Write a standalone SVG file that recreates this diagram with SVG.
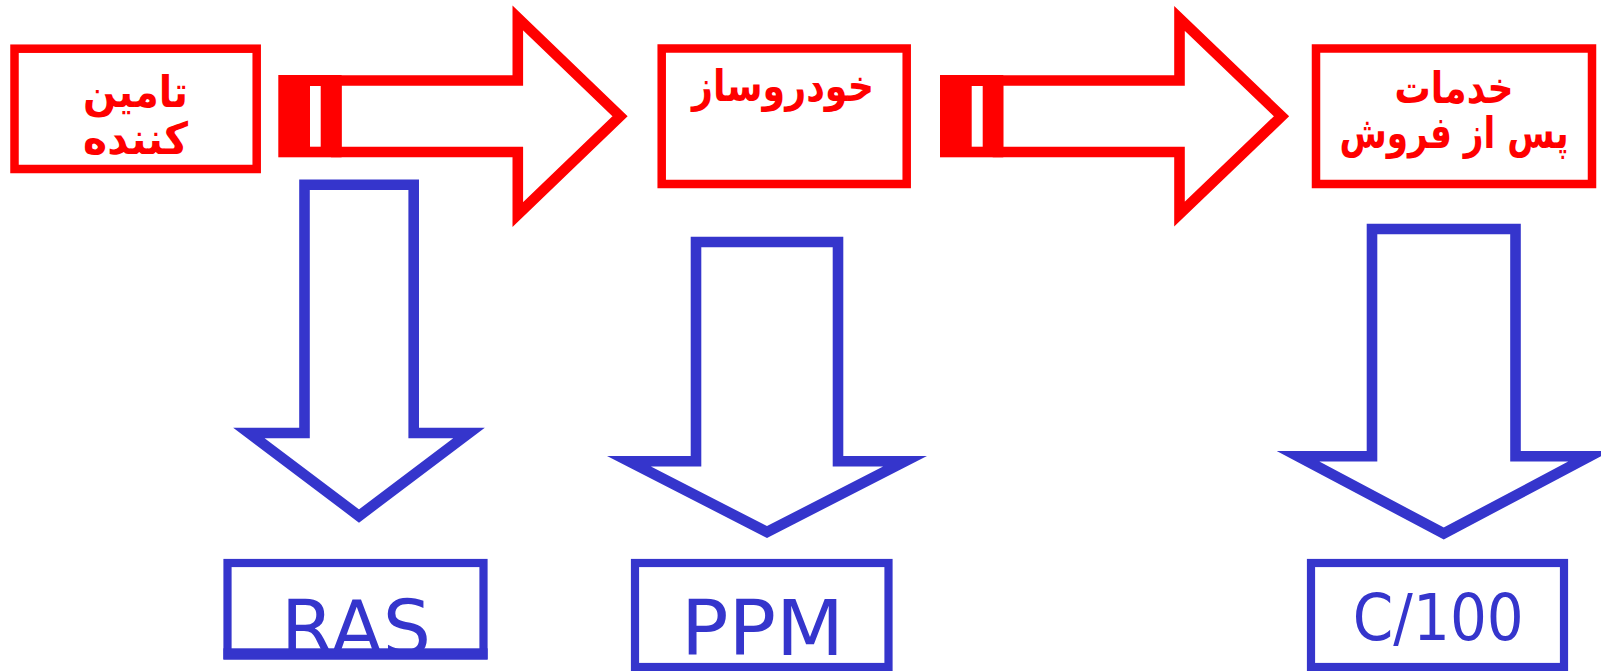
<svg xmlns="http://www.w3.org/2000/svg" width="1601" height="671" viewBox="0 0 1601 671">
<style>
.rbox{fill:#fff;stroke:#ff0000;stroke-width:8.5}
.bbox{fill:none;stroke:#3535cc;stroke-width:8.2}
.rarrow{fill:none;stroke:#ff0000;stroke-width:10.6;stroke-linejoin:miter;stroke-miterlimit:10}
.barrow{fill:none;stroke:#3535cc;stroke-width:10.6;stroke-linejoin:miter;stroke-miterlimit:10}
.fa{font-family:"DejaVu Sans","Noto Sans",sans-serif;font-weight:bold;font-size:44px;fill:#ff0000;text-anchor:middle}
.en{font-family:"DejaVu Sans","Liberation Sans",sans-serif;fill:#3535cc;text-anchor:middle}
</style>
<defs>
  <clipPath id="rasclip"><rect x="227" y="560" width="260" height="89"/></clipPath>
</defs>
<rect width="1601" height="671" fill="#fff"/>
<g id="connectors">
  <g id="red-arrow-1">
    <rect x="278.3" y="75" width="63.3" height="82.3" fill="#ff0000"/>
    <rect x="310" y="86" width="10.7" height="60.7" fill="#fff"/>
    <polygon class="rarrow" points="336.3,80.5 517.8,80.5 517.8,18 620,116.3 517.8,214.6 517.8,152 336.3,152"/>
  </g>
  <g id="red-arrow-2">
    <rect x="940" y="75" width="63.3" height="82.3" fill="#ff0000"/>
    <rect x="971.7" y="86" width="11" height="60.7" fill="#fff"/>
    <polygon class="rarrow" points="998,80.5 1179.5,80.5 1179.5,18.5 1281.5,116.3 1179.5,214 1179.5,152 998,152"/>
  </g>
  <polygon id="blue-arrow-1" class="barrow" points="304.5,184.7 413.7,184.7 413.7,433 469,433 359,516 249,433 304.5,433"/>
  <polygon id="blue-arrow-2" class="barrow" points="696,242 838,242 838,461.3 905,461.3 767,532 629,461.3 696,461.3"/>
  <polygon id="blue-arrow-3" class="barrow" points="1372,229 1515.5,229 1515.5,456.3 1589.5,456.3 1443.75,533.5 1298,456.3 1372,456.3"/>
</g>
<g id="node-supplier">
  <rect class="rbox" x="14.5" y="48.7" width="242.2" height="120.3"/>
  <text class="fa" x="135.6" y="106.5" textLength="105" lengthAdjust="spacingAndGlyphs">تامین</text>
  <text class="fa" x="135.6" y="154" textLength="105" lengthAdjust="spacingAndGlyphs">کننده</text>
</g>
<g id="node-carmaker">
  <rect class="rbox" x="661.7" y="48.5" width="245" height="135.5"/>
  <text class="fa" x="783" y="100.5" textLength="182" lengthAdjust="spacingAndGlyphs">خودروساز</text>
</g>
<g id="node-aftersales">
  <rect class="rbox" x="1316" y="48.5" width="276" height="135.5"/>
  <text class="fa" x="1454" y="102.5" textLength="119" lengthAdjust="spacingAndGlyphs">خدمات</text>
  <text class="fa" x="1454" y="148" textLength="229" lengthAdjust="spacingAndGlyphs">پس از فروش</text>
</g>
<g id="node-ras">
  <text class="en" x="356" y="655" font-size="76" clip-path="url(#rasclip)">RAS</text>
  <rect class="bbox" x="227.5" y="563" width="256" height="92.4"/>
  <rect x="223.4" y="648.3" width="264.2" height="11.2" fill="#3535cc"/>
</g>
<g id="node-ppm">
  <rect class="bbox" x="635" y="563" width="253.5" height="104"/>
  <text class="en" x="762.5" y="655" font-size="76" textLength="163" lengthAdjust="spacingAndGlyphs">PPM</text>
</g>
<g id="node-c100">
  <rect class="bbox" x="1311" y="563" width="253" height="104"/>
  <text class="en" x="1438.3" y="640" font-size="64" textLength="171" lengthAdjust="spacingAndGlyphs">C/100</text>
</g>
</svg>
